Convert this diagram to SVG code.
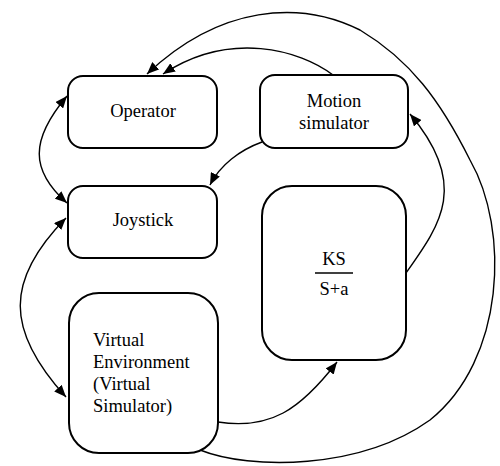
<svg xmlns="http://www.w3.org/2000/svg" width="500" height="466" viewBox="0 0 500 466">
<defs>
<marker id="ah" viewBox="0 0 12 10" refX="12" refY="5" markerWidth="12" markerHeight="10" markerUnits="userSpaceOnUse" orient="auto-start-reverse">
<path d="M0,0 L12,5 L0,10 Z" fill="#000"/>
</marker>
<style>
.box{fill:#fff;stroke:#000;stroke-width:2}
.t{font-size:18.5px;fill:#000}
.c{fill:none;stroke:#000;stroke-width:1.4}
</style>
</defs>
<rect width="500" height="466" fill="#fff"/>
<g id="connectors">
<path class="c" d="M200,450 C250,470 360,470 430,420 C505,360 510,230 470,160 C440,100 410,60 360,30 C300,0 220,5 147,74" marker-end="url(#ah)"/>
<path class="c" d="M333,75 C300,50 230,30 163,74" marker-end="url(#ah)"/>
<path class="c" d="M262,142 C240,150 220,165 210,185" marker-end="url(#ah)"/>
<path class="c" d="M67,96 C30,140 30,170 67,203" marker-start="url(#ah)" marker-end="url(#ah)"/>
<path class="c" d="M66,218 C5,280 5,330 66,397" marker-start="url(#ah)" marker-end="url(#ah)"/>
<path class="c" d="M218,422 C270,430 300,410 337,362" marker-end="url(#ah)"/>
<path class="c" d="M406,273 C440,225 470,185 410,114" marker-end="url(#ah)"/>
</g>
<g font-family="'Liberation Serif', 'DejaVu Serif', serif">
<g id="operator">
<rect class="box" x="68" y="76" width="149" height="72" rx="15"/>
<text class="t" x="143" y="117" text-anchor="middle">Operator</text>
</g>
<g id="motion">
<rect class="box" x="260" y="75" width="148" height="73" rx="15"/>
<text class="t" x="334" y="107" text-anchor="middle">Motion</text>
<text class="t" x="334" y="129" text-anchor="middle">simulator</text>
</g>
<g id="joystick">
<rect class="box" x="68" y="186" width="149" height="72" rx="15"/>
<text class="t" x="143" y="226" text-anchor="middle">Joystick</text>
</g>
<g id="ks">
<rect class="box" x="262" y="186" width="144" height="174" rx="30"/>
<text class="t" x="334" y="265" text-anchor="middle">KS</text>
<line x1="315" y1="273" x2="353" y2="273" stroke="#000" stroke-width="1.4"/>
<text class="t" x="334" y="295" text-anchor="middle">S+a</text>
</g>
<g id="virtual">
<rect class="box" x="69" y="293" width="149" height="160" rx="30"/>
<text class="t" x="93" y="346">Virtual</text>
<text class="t" x="93" y="368">Environment</text>
<text class="t" x="93" y="390">(Virtual</text>
<text class="t" x="93" y="412">Simulator)</text>
</g>
</g>
</svg>
